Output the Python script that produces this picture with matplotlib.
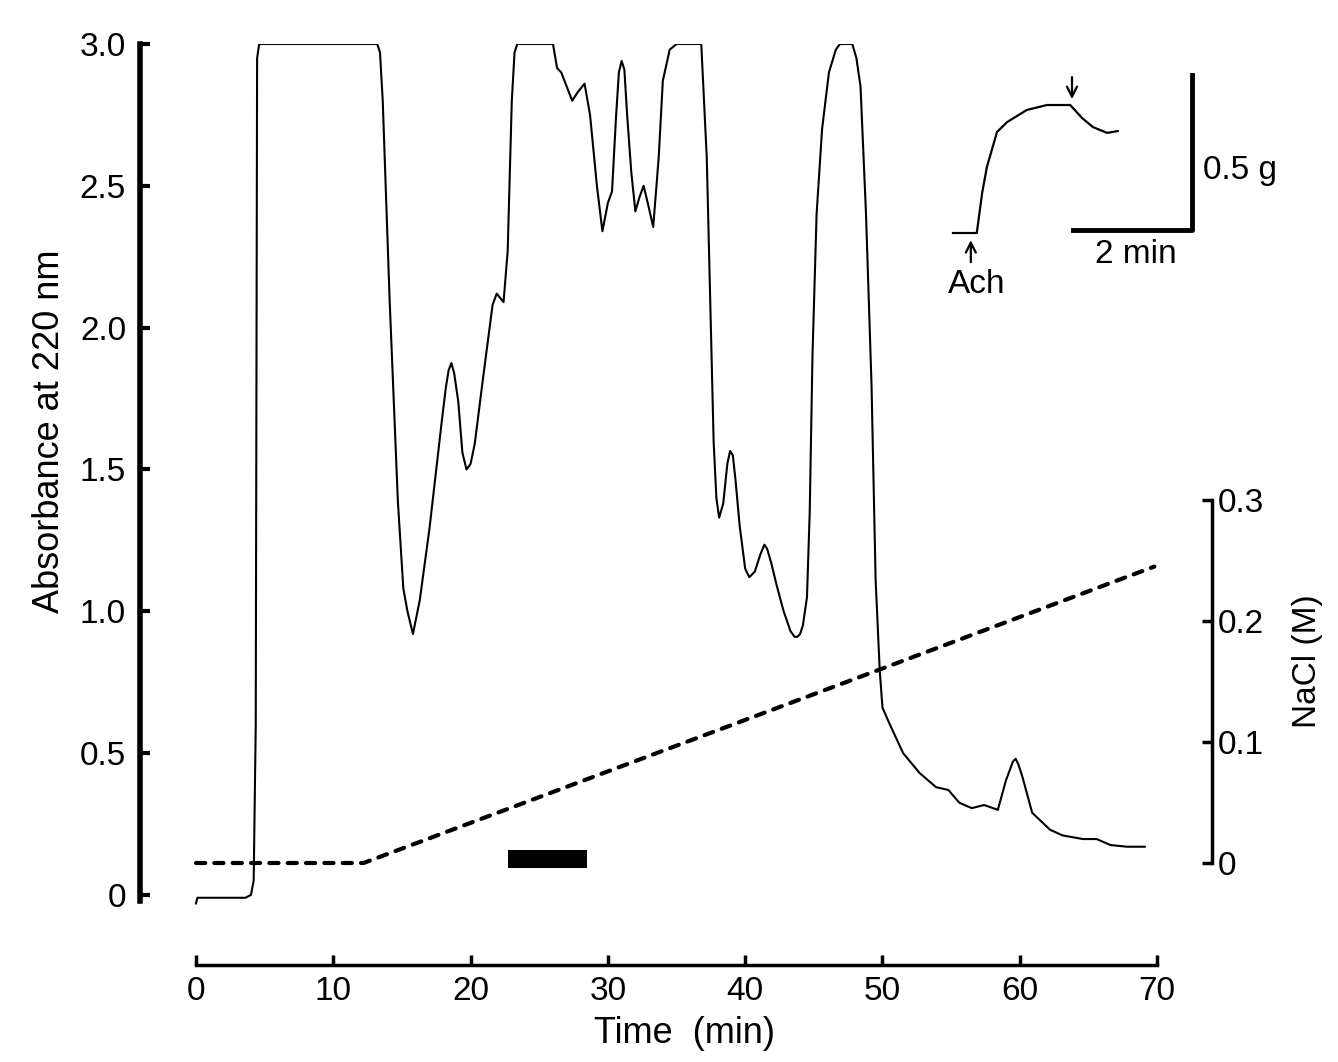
import matplotlib
matplotlib.use("Agg")
import matplotlib.pyplot as plt

plt.rcParams['font.family'] = ['Liberation Sans', 'DejaVu Sans']

# absorbance trace (time in min, A220)
time = [0, 0.1, 3.6, 4.0, 4.2, 4.35, 4.45, 4.6, 13.2, 13.4, 13.6, 14.1, 14.7, 15.1, 15.4, 15.8,
        16.3, 17.0, 17.9, 18.2, 18.4, 18.6, 18.8, 19.1, 19.4, 19.7, 20.0, 20.3, 20.9, 21.6, 21.9, 22.4,
        22.7, 23.0, 23.2, 23.4, 26.0, 26.3, 26.6, 27.0, 27.4, 27.8, 28.3, 28.7, 29.2, 29.6,
        30.0, 30.3, 30.6, 30.8, 31.0, 31.2, 31.4, 31.7, 32.0, 32.3, 32.6, 32.9, 33.3, 33.7, 34.0,
        34.5, 35.0, 36.8, 37.2, 37.5, 37.7, 37.9, 38.1, 38.4, 38.7, 38.9, 39.1, 39.3, 39.6,
        40.0, 40.3, 40.7, 41.1, 41.4, 41.6, 41.9, 42.3, 42.8, 43.3, 43.6, 43.8, 44.0, 44.2, 44.5, 44.7,
        44.9, 45.2, 45.6, 46.1, 46.6, 46.9, 47.8, 48.1, 48.4, 48.8, 49.2, 49.5, 49.8, 50.0, 50.5,
        51.5, 52.7, 53.9, 54.8, 55.6, 56.5, 57.4, 58.4, 59.0, 59.5, 59.7, 59.9, 60.2, 60.9, 62.2,
        63.1, 64.6, 65.6, 66.6, 67.8, 69.1]
absorb = [-0.03, -0.01, -0.01, 0.0, 0.05, 0.6, 2.95, 3.0, 3.0, 2.97, 2.8, 2.1, 1.39, 1.08, 1.0, 0.92,
          1.04, 1.29, 1.67, 1.79, 1.85, 1.875, 1.84, 1.74, 1.56, 1.50, 1.52, 1.59, 1.82, 2.08, 2.12, 2.09,
          2.27, 2.8, 2.97, 3.0, 3.0, 2.915, 2.90, 2.85, 2.80, 2.83, 2.86, 2.75, 2.50, 2.34,
          2.44, 2.48, 2.75, 2.90, 2.94, 2.91, 2.75, 2.55, 2.41, 2.46, 2.50, 2.44, 2.355, 2.6, 2.87,
          2.98, 3.0, 3.0, 2.6, 2.0, 1.6, 1.4, 1.33, 1.38, 1.52, 1.565, 1.55, 1.46, 1.30,
          1.15, 1.12, 1.14, 1.20, 1.235, 1.22, 1.17, 1.09, 1.00, 0.93, 0.91, 0.91, 0.92, 0.95, 1.05, 1.35,
          1.9, 2.4, 2.7, 2.9, 2.98, 3.0, 3.0, 2.95, 2.85, 2.4, 1.8, 1.11, 0.79, 0.66, 0.605,
          0.50, 0.43, 0.38, 0.37, 0.325, 0.306, 0.317, 0.30, 0.405, 0.47, 0.48, 0.46, 0.415, 0.29, 0.23,
          0.21, 0.197, 0.197, 0.176, 0.17, 0.17]

# NaCl gradient
grad_time = [0, 12.2, 69.8]
grad_nacl = [0, 0, 0.245]

# active fraction bar
bar_time = [22.7, 28.5]
bar_level = 0.127

# inset: tension trace (min, g)
ins_time = [0, 0.40, 0.49, 0.57, 0.74, 0.91, 1.24, 1.58, 1.97, 2.17, 2.35, 2.59, 2.77]
ins_tension = [0, 0, 0.129, 0.213, 0.326, 0.358, 0.397, 0.413, 0.413, 0.371, 0.342, 0.323, 0.329]
ach_time = 0.30
wash_time = 2.0

fig = plt.figure(figsize=(13.38, 10.62), dpi=100)
ax = fig.add_axes([140/1338, 97/1062, 1072/1338, 921/1062])

ax.plot(time, absorb, color='black', lw=1.5, solid_joinstyle='round')
ax.plot(bar_time, [bar_level, bar_level], color='black', lw=13, solid_capstyle='butt')

ax.set_xlim(-4.08, 74.0)
ax.set_ylim(-0.247, 3.0)
ax.spines['top'].set_visible(False)
ax.spines['right'].set_visible(False)
ax.spines['left'].set_linewidth(4)
ax.spines['left'].set_bounds(-0.02, 3.0)
ax.spines['bottom'].set_linewidth(2.5)
ax.spines['bottom'].set_bounds(0, 70)

ax.set_xticks(range(0, 71, 10))
ax.set_yticks([0, 0.5, 1.0, 1.5, 2.0, 2.5, 3.0])
ax.set_yticklabels(['0', '0.5', '1.0', '1.5', '2.0', '2.5', '3.0'])
ax.tick_params(axis='y', direction='in', length=7, width=3, labelsize=24, pad=10)
ax.tick_params(axis='x', direction='in', length=7, width=2.5, labelsize=24, pad=8)

ax.set_xlabel('Time  (min)', fontsize=26)
ax.xaxis.set_label_coords(0.508, -0.055)
ax.set_ylabel('Absorbance at 220 nm', fontsize=26)
ax.yaxis.set_label_coords(-0.068, 0.58)

ax2 = ax.twinx()
ax2.plot(grad_time, grad_nacl, color='black', lw=3, dashes=(2.2, 2.2), dash_capstyle='round')
ax2.set_ylim(-0.0843, 0.6769)
for s in ['top', 'left', 'bottom']:
    ax2.spines[s].set_visible(False)
ax2.spines['right'].set_linewidth(2.5)
ax2.spines['right'].set_bounds(0, 0.3)
ax2.set_yticks([0, 0.1, 0.2, 0.3])
ax2.set_yticklabels(['0', '0.1', '0.2', '0.3'])
ax2.tick_params(axis='y', direction='in', length=7, width=2.5, labelsize=24, pad=4)
ax2.set_ylabel('NaCl (M)', fontsize=24)
ax2.yaxis.set_label_coords(1.075, 0.33)

# inset: tension record
axi = fig.add_axes([940/1338, 817/1062, 260/1338, 175/1062])
axi.plot(ins_time, ins_tension, color='black', lw=1.6)
axi.plot([2.02, 4.02, 4.02], [0.01, 0.01, 0.51], color='black', lw=3.5)
axi.set_xlim(-0.218, 4.151)
axi.set_ylim(-0.0387, 0.526)
axi.axis('off')
axi.annotate('', xy=(ach_time, -0.023), xytext=(ach_time, -0.094),
             arrowprops=dict(arrowstyle='->', lw=1.6, color='black', mutation_scale=18,
                             shrinkA=0, shrinkB=0), annotation_clip=False)
axi.text(0.40, -0.165, 'Ach', fontsize=24, ha='center', va='center', clip_on=False)
axi.annotate('', xy=(wash_time, 0.432), xytext=(wash_time, 0.503),
             arrowprops=dict(arrowstyle='->', lw=1.6, color='black', mutation_scale=18,
                             shrinkA=0, shrinkB=0), annotation_clip=False)
axi.text(4.2, 0.203, '0.5 g', fontsize=24, ha='left', va='center', clip_on=False)
axi.text(3.07, -0.07, '2 min', fontsize=24, ha='center', va='center', clip_on=False)

fig.savefig('out.png', dpi=100, facecolor='white')
